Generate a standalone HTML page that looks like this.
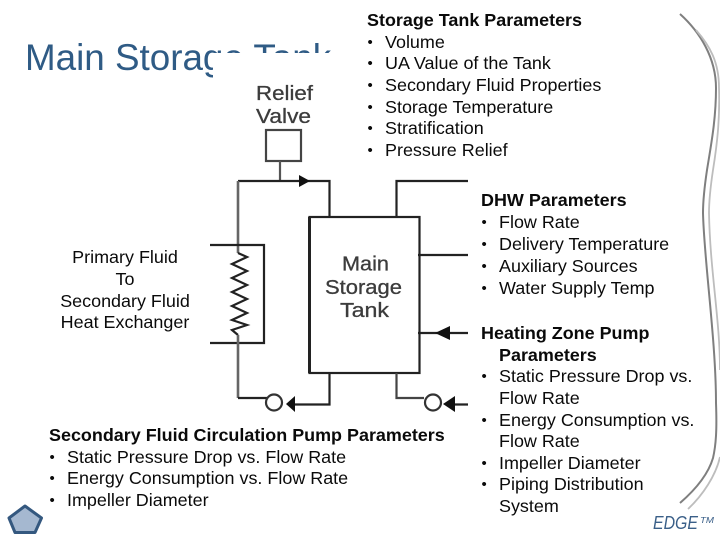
<!DOCTYPE html>
<html>
<head>
<meta charset="utf-8">
<style>
html,body{margin:0;padding:0;background:#fff;}
svg{display:block;}
text{font-family:"Liberation Sans",Arial,sans-serif;}
.t{font-size:17.950px;fill:#0a0a0a;}
.b{font-size:17.950px;fill:#0a0a0a;font-weight:bold;}
.s{font-size:15px;fill:#0a0a0a;transform:translate(.5px,-1px);}
.d{font-size:20px;fill:#3c3c3c;stroke:#3c3c3c;stroke-width:.3px;}
</style>
</head>
<body>
<svg width="720" height="540" viewBox="0 0 720 540" xmlns="http://www.w3.org/2000/svg">
<rect width="720" height="540" fill="#fff"/>

<text x="25" y="70" font-size="36.800" fill="#2f5b85">Main Storage Tank</text>
<rect x="213" y="53" width="140" height="40" fill="#fff"/>
<rect x="334" y="0" width="30" height="100" fill="#fff"/>

<!-- swooshes -->
<path d="M680 14 C700 32 716 58 716 88 C716 120 711 145 707 170 C704 190 703 200 703 213 C704 260 716 340 716 403 C717 430 716 445 713 458 C708 475 695 490 680 503" fill="none" stroke="#7f7f7f" stroke-width="2"/>
<path d="M696 30 C710 46 719 62 719 88 C720 120 717 145 713 170 C710 190 709 200 709 213 C710 270 720 320 720 370 M720 457 C716 475 703 495 688 509" fill="none" stroke="#bdbdbd" stroke-width="1.8"/>

<!-- diagram -->
<g fill="none" stroke="#222" stroke-width="2.200">
<rect x="266" y="130" width="35" height="31" stroke="#444"/>
<path d="M280 161V181" stroke="#555"/>
<path d="M238 181H329.500V217"/>
<path d="M238 181V253" stroke="#666" stroke-width="2.600"/>
<rect x="309.500" y="217" width="110" height="156"/>
<path d="M309.500 217V373" stroke-width="3"/>
<path d="M396.500 217V181H468"/>
<path d="M418 255H468"/>
<path d="M418 333H468"/>
<path d="M210 245H264V343H210"/>
<path d="M238 253L247 257L232 264L247 271L232 278L247 285L232 292L247 299L232 306L247 313L232 320L247 325L232 330L238 335"/>
<path d="M238 335V398" stroke="#666" stroke-width="2.600"/>
<path d="M238 398H267"/>
<path d="M329.500 373V404.500H290"/>
<path d="M396.500 373V398H424" stroke="#444"/>
<path d="M450 404.500H468"/>
<circle cx="274" cy="402.500" r="8" stroke="#333"/>
<circle cx="433" cy="402.500" r="8" stroke="#333"/>
</g>
<g fill="#111">
<polygon points="299,175 310,181 299,187"/>
<polygon points="435,333 450,326 450,340"/>
<polygon points="286,404 295,396 295,412"/>
<polygon points="443,404 455,396 455,412"/>
</g>
<text class="d" x="256" y="100" textLength="57" lengthAdjust="spacingAndGlyphs">Relief</text>
<text class="d" x="256" y="123" textLength="55" lengthAdjust="spacingAndGlyphs">Valve</text>
<text class="d" x="342" y="270.500" textLength="47" lengthAdjust="spacingAndGlyphs">Main</text>
<text class="d" x="325" y="294" textLength="77" lengthAdjust="spacingAndGlyphs">Storage</text>
<text class="d" x="340" y="317" textLength="49" lengthAdjust="spacingAndGlyphs">Tank</text>

<!-- Storage Tank Parameters -->
<text class="b" x="367" y="26">Storage Tank Parameters</text>
<text class="s" x="367" y="48">•</text><text class="t" x="385" y="48">Volume</text>
<text class="s" x="367" y="69">•</text><text class="t" x="385" y="69">UA Value of the Tank</text>
<text class="s" x="367" y="91">•</text><text class="t" x="385" y="91">Secondary Fluid Properties</text>
<text class="s" x="367" y="113">•</text><text class="t" x="385" y="113">Storage Temperature</text>
<text class="s" x="367" y="134">•</text><text class="t" x="385" y="134">Stratification</text>
<text class="s" x="367" y="156">•</text><text class="t" x="385" y="156">Pressure Relief</text>

<!-- DHW -->
<text class="b" x="481" y="206">DHW Parameters</text>
<text class="s" x="481" y="228">•</text><text class="t" x="499" y="228">Flow Rate</text>
<text class="s" x="481" y="250">•</text><text class="t" x="499" y="250">Delivery Temperature</text>
<text class="s" x="481" y="272">•</text><text class="t" x="499" y="272">Auxiliary Sources</text>
<text class="s" x="481" y="294">•</text><text class="t" x="499" y="294">Water Supply Temp</text>

<!-- Heating zone -->
<text class="b" x="481" y="339">Heating Zone Pump</text>
<text class="b" x="499" y="361">Parameters</text>
<text class="s" x="481" y="382">•</text><text class="t" x="499" y="382">Static Pressure Drop vs.</text>
<text class="t" x="499" y="404">Flow Rate</text>
<text class="s" x="481" y="426">•</text><text class="t" x="499" y="426">Energy Consumption vs.</text>
<text class="t" x="499" y="447">Flow Rate</text>
<text class="s" x="481" y="469">•</text><text class="t" x="499" y="469">Impeller Diameter</text>
<text class="s" x="481" y="490">•</text><text class="t" x="499" y="490">Piping Distribution</text>
<text class="t" x="499" y="512">System</text>

<!-- Primary -->
<text class="t" x="125" y="263" text-anchor="middle">Primary Fluid</text>
<text class="t" x="125" y="285" text-anchor="middle">To</text>
<text class="t" x="125" y="307" text-anchor="middle">Secondary Fluid</text>
<text class="t" x="125" y="328" text-anchor="middle">Heat Exchanger</text>

<!-- Secondary pump -->
<text class="b" x="49" y="441">Secondary Fluid Circulation Pump Parameters</text>
<text class="s" x="49" y="463">•</text><text class="t" x="67" y="463">Static Pressure Drop vs. Flow Rate</text>
<text class="s" x="49" y="484">•</text><text class="t" x="67" y="484">Energy Consumption vs. Flow Rate</text>
<text class="s" x="49" y="506">•</text><text class="t" x="67" y="506">Impeller Diameter</text>

<!-- Pentagon -->
<polygon points="25,506 41.500,518 35,532.500 15,532.500 9,518" fill="#a5b8d0" stroke="#34587f" stroke-width="3" stroke-linejoin="round"/>

<!-- EDGE -->
<text x="653" y="529" font-size="18" font-style="italic" fill="#3a5f88" textLength="45" lengthAdjust="spacingAndGlyphs">EDGE</text>
<text x="700" y="523" font-size="8" font-style="italic" fill="#3a5f88" textLength="14" lengthAdjust="spacingAndGlyphs">TM</text>
</svg>
</body>
</html>
